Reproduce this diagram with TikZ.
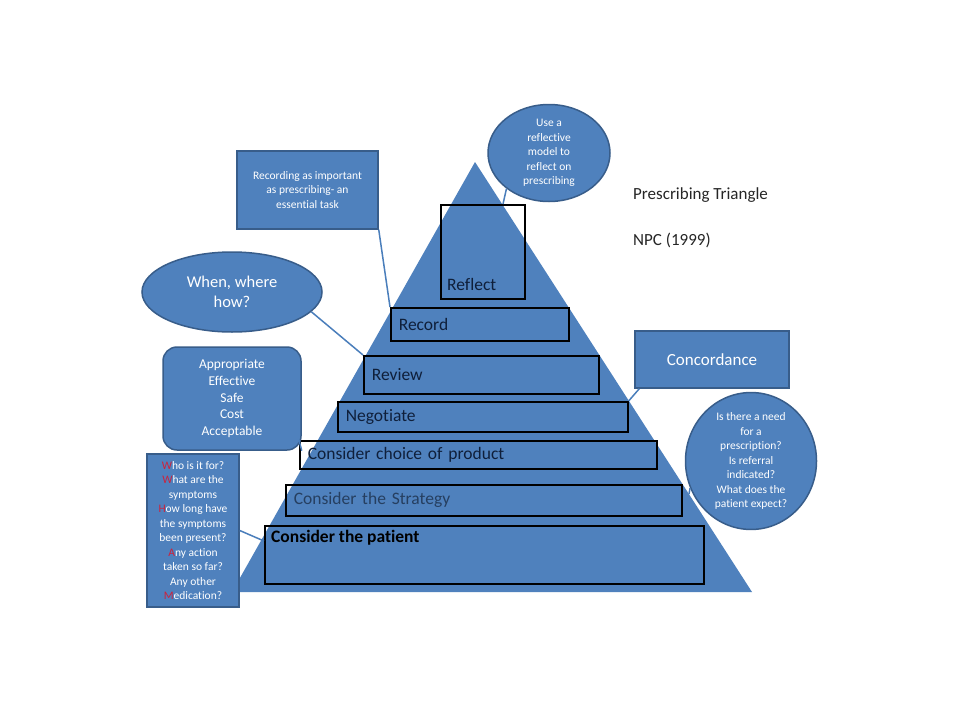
\documentclass[tikz,border=0pt]{standalone}
\usepackage{fontspec}
\setmainfont{Carlito}[Ligatures=NoCommon]
\usetikzlibrary{shapes.geometric,calc}
\definecolor{pblue}{HTML}{4F81BD}
\definecolor{pborder}{HTML}{385D8A}
\definecolor{navytext}{HTML}{0F1F3A}
\definecolor{stratext}{HTML}{263F60}
\definecolor{titletext}{HTML}{262626}
\definecolor{whred}{HTML}{D0203A}
\definecolor{linkblue}{HTML}{4A7EBB}
\begin{document}
\begin{tikzpicture}[x=1pt,y=-1pt,
  stepbox/.style={draw=black, line width=1.6pt, anchor=north west, inner ysep=0pt, inner xsep=8pt, align=left, font=\fontsize{17.5}{20}\selectfont, text=navytext},
  boxlabel/.style={anchor=west, inner sep=0pt, font=\fontsize{17.5}{20}\selectfont, text=navytext},
  callrect/.style={draw=pborder, fill=pblue, line width=1.5pt, text=white, align=center, inner sep=0pt},
  callell/.style={ellipse, draw=pborder, fill=pblue, line width=1.5pt, text=white, align=center, inner sep=0pt},
  smalltext/.style={font=\fontsize{11.5}{14.5}\selectfont},
  link/.style={draw=linkblue, line width=1.5pt},
  titlestyle/.style={anchor=west, inner sep=0pt, text=titletext, font=\fontsize{17}{20}\selectfont},
]
\useasboundingbox (0,0) rectangle (960,720);
\fill[white] (0,0) rectangle (960,720);

% triangle
\fill[pblue] (475,162) -- (752,592) -- (232,592) -- cycle;

% steps
\node[stepbox, minimum width=84pt, minimum height=94pt] (reflect) at (440,204) {};
\node[boxlabel] (reflectlbl) at (447,284) {Reflect};
\node[stepbox, minimum height=33pt, text width=162pt] (record) at (390,307) {Record};
\node[stepbox, minimum height=38pt, text width=219pt] (review) at (363,355) {Review};
\node[stepbox, minimum height=30pt, text width=274pt] (negot) at (337,401) {Negotiate};
\node[stepbox, minimum height=28pt, text width=341pt] (choice) at (299,440) {Consider choice of product};
\node[stepbox, minimum height=31pt, text width=380pt, text=stratext] (strategy) at (285,484) {Consider the Strategy};
\node[stepbox, minimum width=439pt, minimum height=58pt] (patient) at (264,525) {};
\node[boxlabel, text=black, font=\bfseries\fontsize{17.5}{20}\selectfont] (patientlbl) at (271,538) {Consider the patient};

% callouts
\node[callell, smalltext, minimum width=122pt, minimum height=97pt] (reflnote) at (549,153)
  {Use a\\reflective\\model to\\reflect on\\prescribing};
\node[callrect, smalltext, minimum width=141pt, minimum height=78pt] (recnote) at (307.5,190)
  {Recording as important\\as prescribing- an\\essential task};
\node[callell, font=\fontsize{16.5}{20}\selectfont, minimum width=180pt, minimum height=80pt] (when) at (232,292)
  {When, where\\how?};
\node[callrect, rounded corners=14pt, font=\fontsize{13.5}{16.7}\selectfont, minimum width=138pt, minimum height=103pt] (approp) at (232,398.5)
  {Appropriate\\Effective\\Safe\\Cost\\Acceptable};
\node[callrect, smalltext, minimum width=92pt, minimum height=153pt] (wham) at (193,530.5)
  {{\color{whred}W}ho is it for?\\{\color{whred}W}hat are the\\symptoms\\{\color{whred}H}ow long have\\the symptoms\\been present?\\{\color{whred}A}ny action\\taken so far?\\Any other\\{\color{whred}M}edication?};
\node[callrect, font=\fontsize{17}{20}\selectfont, minimum width=154pt, minimum height=57pt] (concord) at (712,359.5)
  {Concordance};
\node[callell, smalltext, minimum width=131pt, minimum height=124pt] (need) at (751,461)
  {Is there a need\\for a\\prescription?\\Is referral\\indicated?\\What does the\\patient expect?};

% titles
\node[titlestyle] (title) at (633,195) {Prescribing Triangle};
\node[titlestyle] (npc) at (633,240) {NPC (1999)};

% connectors
\coordinate (reflTop) at (503,204);
\coordinate (patientIn) at ($(patient.north west)+(0,16)$);
\coordinate (triEdge) at (689,494);
\draw[link] (reflnote.220) -- (reflTop);
\draw[link] (recnote.south east) -- (record.north west);
\draw[link] (when.-14) -- (review.north west);
\draw[link] (approp.south east) -- (choice.north west);
\draw[link] (wham.east) -- (patientIn);
\draw[link] ($(concord.south west)+(5,0)$) -- (negot.north east);
\draw[link] (need.204) -- (triEdge);
\end{tikzpicture}
\end{document}
